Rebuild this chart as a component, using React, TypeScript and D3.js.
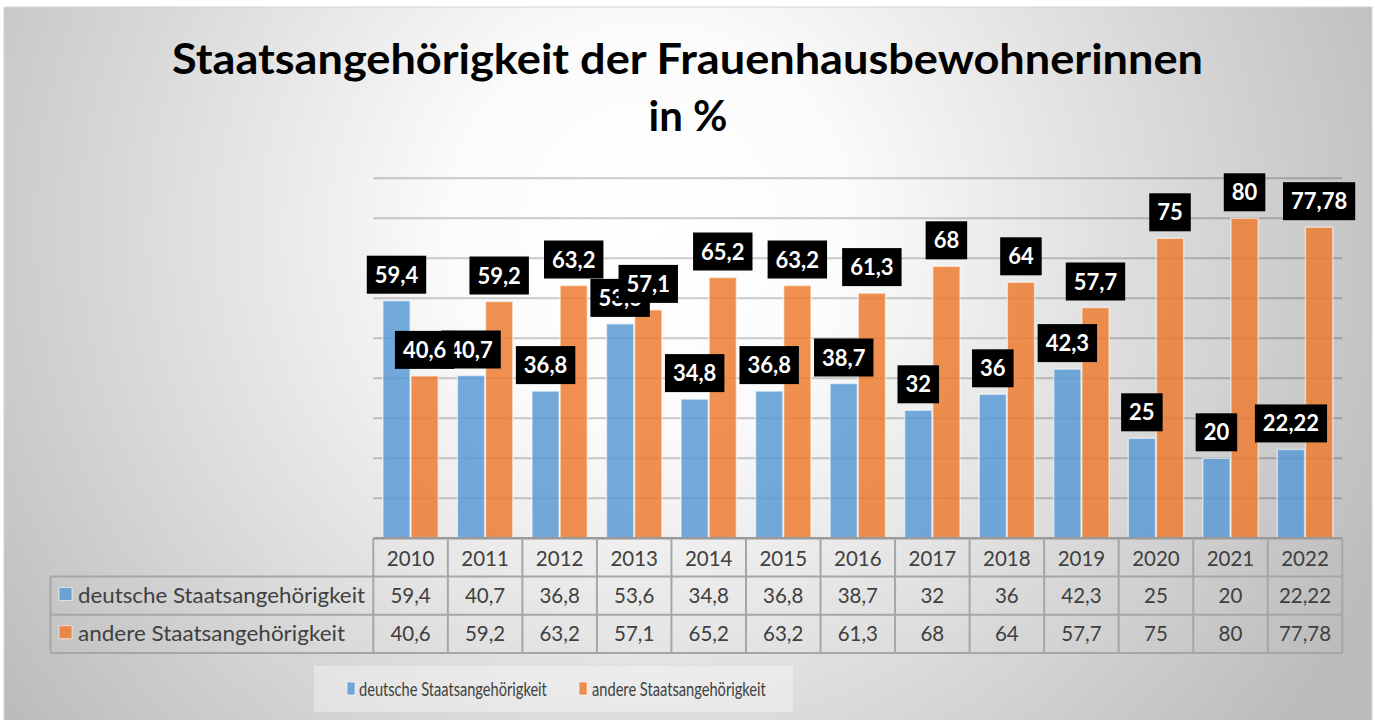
import React, { useMemo } from "react";
import * as d3 from "d3";

const years = ["2010","2011","2012","2013","2014","2015","2016","2017","2018","2019","2020","2021","2022"];
const deutsche = [59.4, 40.7, 36.8, 53.6, 34.8, 36.8, 38.7, 32, 36, 42.3, 25, 20, 22.22];
const andere = [40.6, 59.2, 63.2, 57.1, 65.2, 63.2, 61.3, 68, 64, 57.7, 75, 80, 77.78];
const seriesNames = ["deutsche Staatsangehörigkeit", "andere Staatsangehörigkeit"];
const seriesColors = ["#5B9BD5", "#ED7D31"];
const yTicks = [10, 20, 30, 40, 50, 60, 70, 80, 90];
const titleLines = ["Staatsangehörigkeit der Frauenhausbewohnerinnen", "in %"];

const W = 1375, H = 720;
const fmt = (v: number) => String(v).replace(".", ",");

let ctx: CanvasRenderingContext2D | null = null;
function measure(t: string, font: string) {
  if (!ctx) ctx = document.createElement("canvas").getContext("2d");
  if (!ctx) return t.length * 11;
  ctx.font = font;
  return ctx.measureText(t).width;
}

export default function App() {
  const x0 = d3.scaleBand<string>().domain(years).range([373.3, 1342.3]).paddingInner(0).paddingOuter(0);
  const x1 = d3.scaleBand<number>().domain([0, 1]).range([0, x0.bandwidth()]).paddingInner(0.03).paddingOuter(0.34);
  const y = d3.scaleLinear().domain([0, 90]).range([538.3, 178.3]);
  const series = [deutsche, andere];
  const labelFont = "bold 22px Lato";
  const font = "Lato, 'Open Sans', sans-serif";
  const tableTop = 538.3, rowH = 38.2;
  const tableLeft = 50.5;
  const gridColor = "rgba(0,0,0,0.2)";
  const tableLine = "#a6a6a6";
  const rowTextLen = [287, 267];
  const legendTextLen = [188, 174];
  const legendX = [359, 592];
  const legendKeyX = [347, 579];

  const labels = useMemo(() => {
    const out: any[] = [];
    series.forEach((vals, s) => {
      vals.forEach((v, i) => {
        const txt = fmt(v);
        const tw = measure(txt, labelFont);
        const cx = (x0(years[i]) as number) + (x1(s) as number) + x1.bandwidth() / 2;
        const bw = tw + 16;
        const bottom = y(v) - 7;
        out.push({ key: `${s}-${i}`, txt, cx, bw, top: bottom - 38 });
      });
    });
    return out;
  }, []);

  const legendScale = useMemo(
    () => seriesNames.map((n, s) => legendTextLen[s] / Math.max(1, measure(n, "20px Lato"))),
    []
  );

  return (
    <svg width={W} height={H} style={{ position: "fixed", left: 0, top: 0 }} fontFamily={font}>
      <defs>
        <radialGradient id="bg" gradientUnits="userSpaceOnUse" cx={650} cy={230} r={800} fx={650} fy={230}>
          <stop offset="0" stopColor="#ffffff" />
          <stop offset="0.25" stopColor="#fbfbfb" />
          <stop offset="1" stopColor="#bcbcbc" />
        </radialGradient>
      </defs>
      <rect x={0} y={0} width={W} height={H} fill="#ffffff" />
      <rect x={4} y={7} width={1368} height={H} fill="url(#bg)" stroke="#d4d4d4" strokeWidth={1} />

      {/* title */}
      <text x={172} y={73.5} fontSize={42} fontWeight="bold" fill="#000" textLength={1031} lengthAdjust="spacingAndGlyphs">
        {titleLines[0]}
      </text>
      <text x={688} y={131} fontSize={42} fontWeight="bold" fill="#000" textAnchor="middle">
        {titleLines[1]}
      </text>

      {/* gridlines */}
      {yTicks.map((t) => (
        <line key={t} x1={373.3} x2={1342.3} y1={y(t)} y2={y(t)} stroke={gridColor} strokeWidth={2} />
      ))}

      {/* bars */}
      {series.map((vals, s) =>
        vals.map((v, i) => (
          <rect
            key={`b${s}-${i}`}
            x={(x0(years[i]) as number) + (x1(s) as number)}
            y={y(v)}
            width={x1.bandwidth()}
            height={y(0) - y(v)}
            fill={seriesColors[s]}
            fillOpacity={0.85}
            stroke="rgba(255,255,255,0.55)"
            strokeWidth={1.5}
          />
        ))
      )}

      {/* data labels */}
      {labels.map((l) => (
        <g key={l.key}>
          <rect x={l.cx - l.bw / 2} y={l.top} width={l.bw} height={38} fill="#000" />
          <text x={l.cx} y={l.top + 27} textAnchor="middle" fill="#fff" fontSize={22} fontWeight="bold">
            {l.txt}
          </text>
        </g>
      ))}

      {/* data table */}
      <g>
        <line x1={373.3} x2={1342.3} y1={tableTop} y2={tableTop} stroke="#9a9a9a" strokeWidth={2.5} />
        {[1, 2, 3].map((r) => (
          <line key={`h${r}`} x1={tableLeft} x2={1342.3} y1={tableTop + r * rowH} y2={tableTop + r * rowH} stroke={tableLine} strokeWidth={2} />
        ))}
        <line x1={tableLeft} x2={tableLeft} y1={tableTop + rowH} y2={tableTop + 3 * rowH} stroke={tableLine} strokeWidth={2} />
        {years.map((yr) => (
          <line key={`v${yr}`} x1={x0(yr) as number} x2={x0(yr) as number} y1={tableTop} y2={tableTop + 3 * rowH} stroke={tableLine} strokeWidth={2} />
        ))}
        <line x1={1342.3} x2={1342.3} y1={tableTop} y2={tableTop + 3 * rowH} stroke={tableLine} strokeWidth={2} />

        {years.map((yr) => (
          <text key={`t${yr}`} x={(x0(yr) as number) + x0.bandwidth() / 2} y={tableTop + 27.5} textAnchor="middle" fontSize={20.5} fill="#404040">
            {yr}
          </text>
        ))}
        {series.map((vals, s) => (
          <g key={`row${s}`}>
            <rect x={59} y={tableTop + (s + 1) * rowH + 11} width={13} height={13} fill={seriesColors[s]} fillOpacity={0.85} stroke="rgba(255,255,255,0.6)" strokeWidth={1} />
            <text x={78} y={tableTop + (s + 1) * rowH + 26} fontSize={20.5} fill="#404040" textLength={rowTextLen[s]} lengthAdjust="spacingAndGlyphs">
              {seriesNames[s]}
            </text>
            {vals.map((v, i) => (
              <text key={`c${s}-${i}`} x={(x0(years[i]) as number) + x0.bandwidth() / 2} y={tableTop + (s + 1) * rowH + 26} textAnchor="middle" fontSize={20.5} fill="#404040">
                {fmt(v)}
              </text>
            ))}
          </g>
        ))}
      </g>

      {/* legend */}
      <g>
        <rect x={314} y={666} width={479} height={46} fill="#ffffff" fillOpacity={0.35} />
        {seriesNames.map((n, s) => (
          <g key={`lg${s}`}>
            <rect x={legendKeyX[s]} y={682} width={8} height={13} fill={seriesColors[s]} fillOpacity={0.85} stroke="rgba(255,255,255,0.6)" strokeWidth={1} />
            <g transform={`translate(${legendX[s]},696) scale(${legendScale[s]},1)`}>
              <text x={0} y={0} fontSize={20} fill="#404040">
                {n}
              </text>
            </g>
          </g>
        ))}
      </g>
    </svg>
  );
}
